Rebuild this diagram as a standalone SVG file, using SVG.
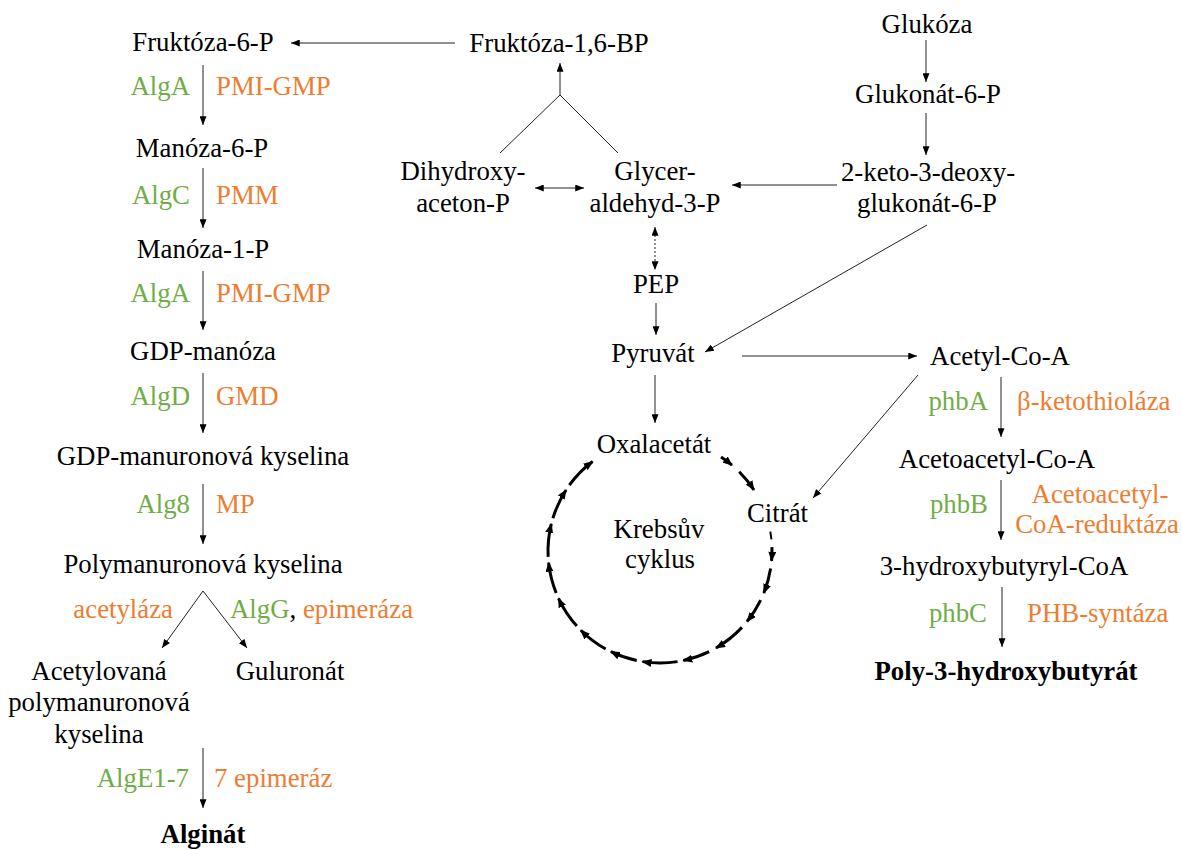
<svg xmlns="http://www.w3.org/2000/svg" width="1182" height="850" viewBox="0 0 1182 850">
<style>
text{font-family:"Liberation Serif","Times New Roman",serif;font-size:26.8px;fill:#000}
.c{text-anchor:middle}
.e{text-anchor:end}
.g{fill:#70AD47}
.o{fill:#ED7D31}
.b{font-weight:bold}
.ln{stroke:#222;stroke-width:1;fill:none}
.ar{marker-end:url(#ah)}
.dot{stroke-dasharray:2,2}
.k{stroke:#000;stroke-width:3;fill:none;marker-end:url(#kh)}
</style>
<defs>
<marker id="ah" viewBox="0 0 10 8" refX="10" refY="4" markerWidth="9" markerHeight="7" markerUnits="userSpaceOnUse" orient="auto-start-reverse"><path d="M0,0L10,4L0,8z" fill="#000"/></marker>
<marker id="kh" viewBox="0 0 10 8" refX="9" refY="4" markerWidth="10" markerHeight="8" markerUnits="userSpaceOnUse" orient="auto"><path d="M0,0L10,4L0,8z" fill="#000"/></marker>
</defs>
<rect width="1182" height="850" fill="#fff"/>
<g id="connectors">
<path class="ln ar" d="M455,43L291,43"/>
<path class="ln" d="M500,153L560,95L618,153"/>
<path class="ln ar" d="M560,95L560,63"/>
<path class="ln ar" d="M535,188L584,188" marker-start="url(#ah)"/>
<path class="ln ar" d="M837,185L732,185"/>
<path class="ln ar" d="M926,40L926,82"/>
<path class="ln ar" d="M926,113L926,155"/>
<path class="ln ar dot" d="M655,227L655,270" marker-start="url(#ah)"/>
<path class="ln ar" d="M656,303L656,335"/>
<path class="ln ar" d="M927,225L705,352"/>
<path class="ln ar" d="M742,356L917,356"/>
<path class="ln ar" d="M655,375L655,423"/>
<path class="ln ar" d="M918,375L813,498"/>
<path class="ln ar" d="M203,65L203,125"/>
<path class="ln ar" d="M203,168L203,228"/>
<path class="ln ar" d="M203,271L203,330"/>
<path class="ln ar" d="M203,373L203,433"/>
<path class="ln ar" d="M203,484L203,544"/>
<path class="ln ar" d="M203,591L162,648"/>
<path class="ln ar" d="M203,591L247,648"/>
<path class="ln ar" d="M203,748L203,808"/>
<path class="ln ar" d="M1001,377L1001,437"/>
<path class="ln ar" d="M1001,480L1001,540"/>
<path class="ln ar" d="M1002,587L1002,647"/>
</g>
<g id="krebs-cycle">
<path class="k" d="M720.99,457.07A112,112 0 0 1 731.99,465.21"/>
<path class="k" d="M739.20,471.80A112,112 0 0 1 753.93,490.00"/>
<path d="M770.30,531.56A112,112 0 0 1 771.39,539.29" stroke="#000" stroke-width="2" fill="none"/>
<path class="k" d="M771.93,547.09A112,112 0 0 1 771.57,560.76"/>
<path class="k" d="M770.62,568.52A112,112 0 0 1 763.84,592.96"/>
<path class="k" d="M760.66,600.10A112,112 0 0 1 747.04,621.48"/>
<path class="k" d="M741.91,627.38A112,112 0 0 1 716.00,648.00"/>
<path class="k" d="M709.10,651.67A112,112 0 0 1 683.29,660.55"/>
<path class="k" d="M677.52,661.62A112,112 0 0 1 642.48,661.62"/>
<path class="k" d="M636.71,660.55A112,112 0 0 1 610.90,651.67"/>
<path class="k" d="M605.70,648.96A112,112 0 0 1 580.80,630.20"/>
<path class="k" d="M576.77,625.94A112,112 0 0 1 558.49,598.33"/>
<path class="k" d="M556.16,592.96A112,112 0 0 1 548.62,562.71"/>
<path class="k" d="M548.16,556.86A112,112 0 0 1 551.33,523.91"/>
<path class="k" d="M552.90,518.25A112,112 0 0 1 566.07,490.00"/>
<path class="k" d="M569.39,485.17A112,112 0 0 1 592.60,461.56"/>
</g>
<g id="n-fruktoza6p"><text class="c" x="203" y="51">Fruktóza-6-P</text></g>
<g id="e1"><text class="e g" x="190" y="95">AlgA</text><text class="o" x="216" y="95">PMI-GMP</text></g>
<g id="n-manoza6p"><text class="c" x="202" y="157">Manóza-6-P</text></g>
<g id="e2"><text class="e g" x="190" y="204">AlgC</text><text class="o" x="216" y="204">PMM</text></g>
<g id="n-manoza1p"><text class="c" x="203" y="258">Manóza-1-P</text></g>
<g id="e3"><text class="e g" x="190" y="302">AlgA</text><text class="o" x="216" y="302">PMI-GMP</text></g>
<g id="n-gdpmanoza"><text class="c" x="203" y="360">GDP-manóza</text></g>
<g id="e4"><text class="e g" x="190" y="405">AlgD</text><text class="o" x="216" y="405">GMD</text></g>
<g id="n-gdpmanur"><text class="c" x="203" y="465">GDP-manuronová kyselina</text></g>
<g id="e5"><text class="e g" x="190" y="513">Alg8</text><text class="o" x="216" y="513">MP</text></g>
<g id="n-polyman"><text class="c" x="203" y="573">Polymanuronová kyselina</text></g>
<g id="e6"><text class="e o" x="173" y="618">acetyláza</text><text x="230" y="618"><tspan class="g">AlgG</tspan>, <tspan class="o">epimeráza</tspan></text></g>
<g id="n-acetyl-poly"><text class="c" x="99" y="680">Acetylovaná</text><text class="c" x="99" y="711">polymanuronová</text><text class="c" x="99" y="743">kyselina</text></g>
<g id="n-guluronat"><text class="c" x="290" y="680">Guluronát</text></g>
<g id="e7"><text class="e g" x="189" y="787">AlgE1-7</text><text class="o" x="214" y="787">7 epimeráz</text></g>
<g id="n-alginat"><text class="c b" x="203" y="843">Alginát</text></g>
<g id="n-fruktoza16bp"><text class="c" x="559" y="52">Fruktóza-1,6-BP</text></g>
<g id="n-dhap"><text class="c" x="463" y="180">Dihydroxy-</text><text class="c" x="463" y="212">aceton-P</text></g>
<g id="n-gap"><text class="c" x="655" y="180">Glycer-</text><text class="c" x="655" y="212">aldehyd-3-P</text></g>
<g id="n-pep"><text class="c" x="656" y="293">PEP</text></g>
<g id="n-pyruvat"><text class="c" x="653" y="362">Pyruvát</text></g>
<g id="n-oxalacetat"><text class="c" x="654" y="453">Oxalacetát</text></g>
<g id="n-citrat"><text x="747" y="522">Citrát</text></g>
<g id="n-krebs"><text class="c" x="659" y="538">Krebsův</text><text class="c" x="660" y="568">cyklus</text></g>
<g id="n-glukoza"><text class="c" x="927" y="33">Glukóza</text></g>
<g id="n-glukonat6p"><text class="c" x="928" y="103">Glukonát-6-P</text></g>
<g id="n-kdpg"><text class="c" x="928" y="181">2-keto-3-deoxy-</text><text class="c" x="927" y="212">glukonát-6-P</text></g>
<g id="n-acetylcoa"><text class="c" x="1000" y="365">Acetyl-Co-A</text></g>
<g id="e8"><text class="e g" x="988" y="410">phbA</text><text class="o" x="1017" y="410">β-ketothioláza</text></g>
<g id="n-acetoacetylcoa"><text class="c" x="997" y="468">Acetoacetyl-Co-A</text></g>
<g id="e9"><text class="e g" x="988" y="513">phbB</text><text class="c o" x="1100" y="503">Acetoacetyl-</text><text class="c o" x="1097" y="533">CoA-reduktáza</text></g>
<g id="n-3hbcoa"><text class="c" x="1004" y="575">3-hydroxybutyryl-CoA</text></g>
<g id="e10"><text class="e g" x="987" y="622">phbC</text><text class="o" x="1027" y="622">PHB-syntáza</text></g>
<g id="n-phb"><text class="c b" x="1006" y="680">Poly-3-hydroxybutyrát</text></g>
</svg>
